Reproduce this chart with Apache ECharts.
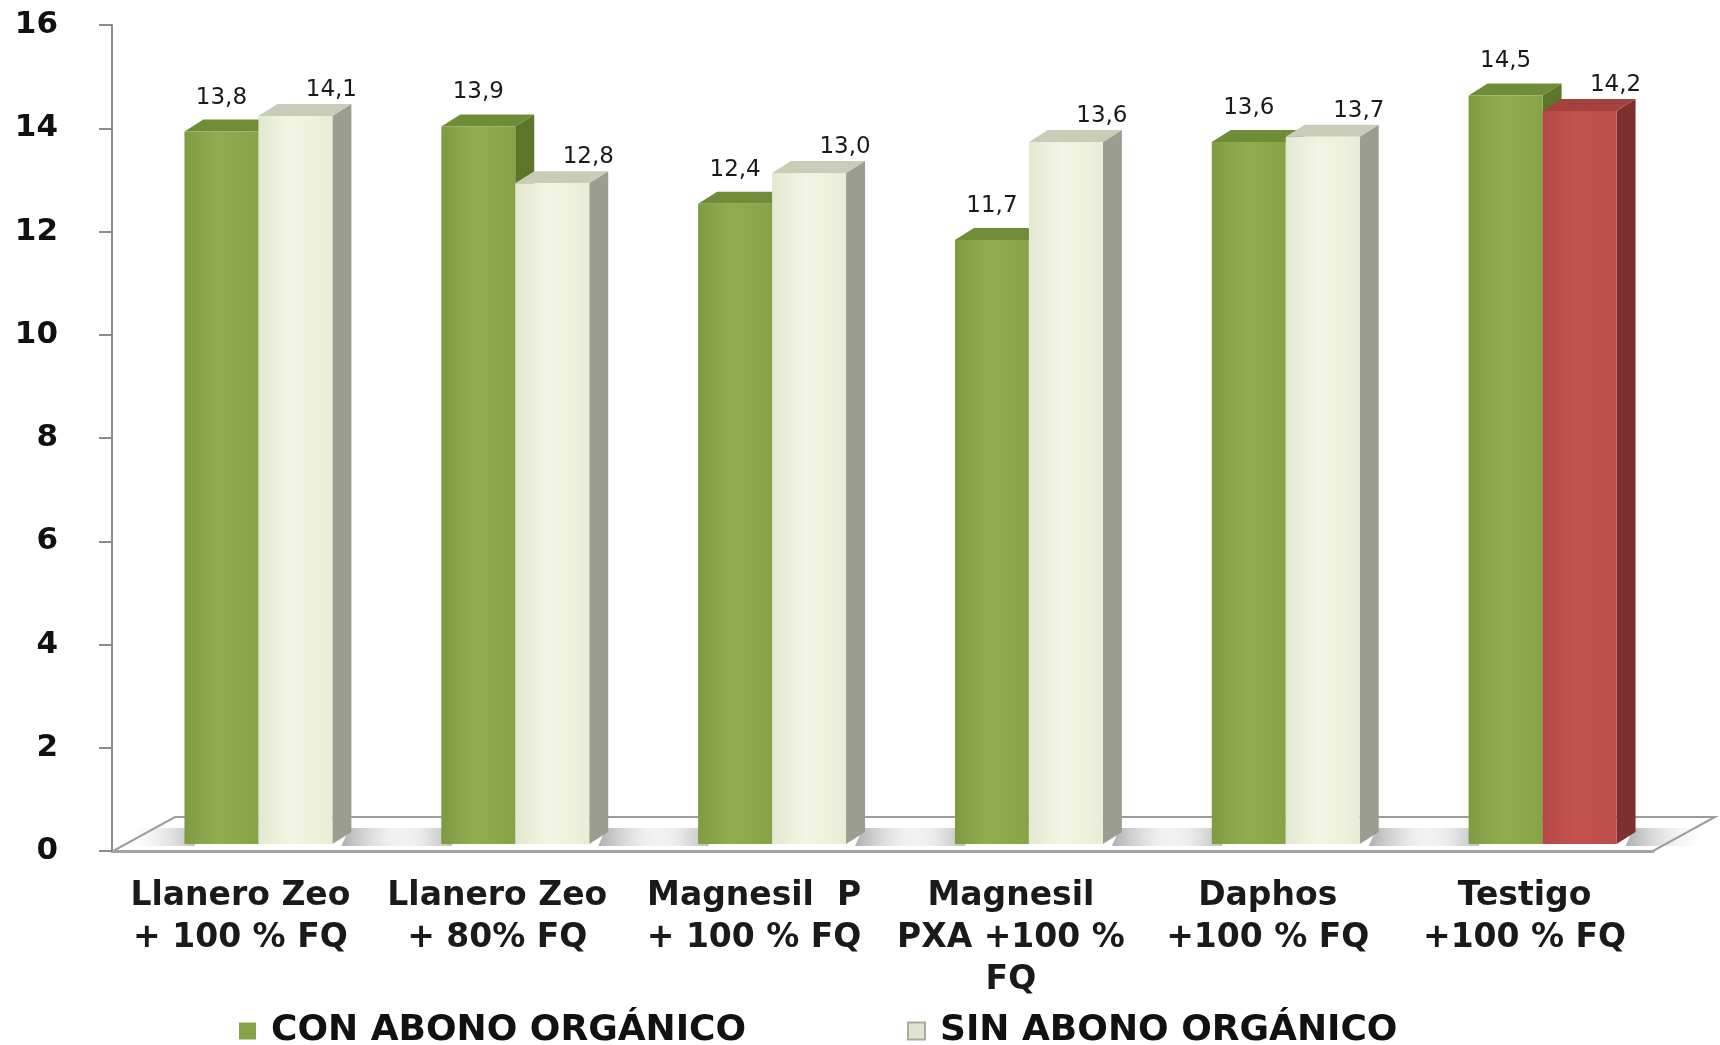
<!DOCTYPE html>
<html>
<head>
<meta charset="utf-8">
<script src="https://cdn.jsdelivr.net/npm/echarts@6/dist/echarts.min.js"></script>
<style>
  html, body { margin: 0; padding: 0; background: #fff; }
  #chart { width: 1720px; height: 1045px; }
</style>
</head>
<body>
<div id="chart"></div>
<script>
// datos
const categories = [
  'Llanero Zeo\n+ 100 % FQ',
  'Llanero Zeo\n+ 80% FQ',
  'Magnesil  P\n+ 100 % FQ',
  'Magnesil\nPXA +100 %\nFQ',
  'Daphos\n+100 % FQ',
  'Testigo\n+100 % FQ'
];
const conAbono = [13.8, 13.9, 12.4, 11.7, 13.6, 14.5];
const sinAbono = [14.1, 12.8, 13.0, 13.6, 13.7, 14.2];
const seriesNames = ['CON ABONO ORGÁNICO', 'SIN ABONO ORGÁNICO'];
const yMin = 0, yMax = 16, yStep = 2;

// layout
const W = 1720, H = 1045;
const GRID = { left: 112, right: 67, top: 25, bottom: 194 };
const FLOOR_DEPTH = [62, -34];
const SHIFT = [18, -7];     // barras metidas hacia atras
const DEPTH = [19, -12];    // profundidad de cada barra
const BAR_FRAC = 0.288;

const GREEN = {
  front: ['#7e9b41', '#90ae50', '#86a447'],
  side: '#5c7629', top: '#6f8c37'
};
const CREAM = {
  front: ['#e3e8d1', '#f2f5e4', '#e8edd7'],
  side: '#9a9d90', top: '#c9cdb8'
};
const RED = {
  front: ['#b54845', '#c3524f', '#bd4d4a'],
  side: '#7f2f2d', top: '#a44240'
};

const fmt = v => v.toFixed(1).replace('.', ',');

function shadow(xa, xb, yb, dy, toLeft) {
  // sombra difusa sobre el piso
  return {
    type: 'polygon',
    shape: { points: [[xa, yb + 2], [xb, yb + 2], [xb + 8, yb + dy - 4], [xa + 8, yb + dy - 4]] },
    style: { fill: new echarts.graphic.LinearGradient(toLeft ? 1 : 0, 0, toLeft ? 0 : 1, 0, [
      { offset: 0, color: 'rgba(110,110,110,0.55)' },
      { offset: 0.5, color: 'rgba(150,150,150,0.22)' },
      { offset: 1, color: 'rgba(200,200,200,0)' }
    ]) }
  };
}

function bar3d(slot, pickPalette, lbl) {
  return function (params, api) {
    const i = api.value(0);
    const v = api.value(1);
    const base = api.coord([i, 0]);
    const top = api.coord([i, v]);
    const band = api.size([1, 0])[0];
    const w = band * BAR_FRAC;
    const x0 = base[0] + SHIFT[0] - w + slot * w;
    const x1 = x0 + w;
    const yb = base[1] + SHIFT[1];
    const yt = top[1] + SHIFT[1];
    const dx = DEPTH[0], dy = DEPTH[1];
    const pal = pickPalette(i);
    const children = [];
    if (slot === 0) {
      children.push(shadow(x0 - 55, x0 + 10, yb, dy, true));
      children.push(shadow(x1 + w + dx - 10, x1 + w + dx + 60, yb, dy, false));
    }
    children.push(
      { type: 'polygon', shape: { points: [[x1, yt], [x1 + dx, yt + dy], [x1 + dx, yb + dy], [x1, yb]] },
        style: { fill: pal.side } },
      { type: 'polygon', shape: { points: [[x0, yt], [x1, yt], [x1 + dx, yt + dy], [x0 + dx, yt + dy]] },
        style: { fill: pal.top } },
      { type: 'rect', shape: { x: x0, y: yt, width: w, height: yb - yt },
        style: { fill: new echarts.graphic.LinearGradient(0, 0, 1, 0, [
          { offset: 0, color: pal.front[0] },
          { offset: 0.45, color: pal.front[1] },
          { offset: 1, color: pal.front[2] }
        ]) } },
      { type: 'text', x: (x0 + x1) / 2 + lbl[0], y: yt - lbl[1],
        style: { text: fmt(v), fontFamily: 'DejaVu Sans', fontSize: 23, fill: '#1a1a1a',
                 align: 'center', verticalAlign: 'middle' } }
    );
    return { type: 'group', children };
  };
}

const floorLeft = GRID.left + 1, floorRight = W - GRID.right, floorY = H - GRID.bottom;

const option = {
  animation: false,
  backgroundColor: '#fff',
  grid: GRID,
  graphic: [{
    type: 'polygon',
    z: -10,
    shape: { points: [
      [floorLeft, floorY],
      [floorRight, floorY],
      [floorRight + FLOOR_DEPTH[0], floorY + FLOOR_DEPTH[1]],
      [floorLeft + FLOOR_DEPTH[0], floorY + FLOOR_DEPTH[1]]
    ] },
    style: { fill: '#fff', stroke: '#9c9c9c', lineWidth: 2 }
  }],
  legend: [
    { data: [seriesNames[0]], left: 234, top: 1008 },
    { data: [seriesNames[1]], left: 902, top: 1008 }
  ].map(l => Object.assign(l, {
    icon: 'rect', itemWidth: 17, itemHeight: 17,
    textStyle: { fontFamily: 'DejaVu Sans', fontWeight: 'bold', fontSize: 36, color: '#111',
                 padding: [0, 0, 0, 10] }
  })),
  xAxis: {
    type: 'category',
    data: categories,
    axisLine: { lineStyle: { color: '#a3a3a3', width: 3 } },
    axisTick: { length: 15, interval: 0, lineStyle: { color: '#a0a0a0', width: 2 } },
    axisLabel: {
      interval: 0, margin: 24, color: '#1a1a1a',
      fontFamily: 'DejaVu Sans', fontWeight: 'bold', fontSize: 33, lineHeight: 42
    }
  },
  yAxis: {
    type: 'value', min: yMin, max: yMax, interval: yStep,
    axisLine: { show: true, lineStyle: { color: '#8c8c8c', width: 2 } },
    axisTick: { show: true, length: 13, lineStyle: { color: '#8c8c8c', width: 2 } },
    splitLine: { show: false },
    axisLabel: { margin: 54, color: '#111', fontFamily: 'DejaVu Sans', fontWeight: 'bold', fontSize: 31 }
  },
  series: [
    {
      name: seriesNames[0], type: 'custom',
      itemStyle: { color: '#86a447' },
      renderItem: bar3d(0, () => GREEN, [0, 34]),
      data: conAbono.map((v, i) => [i, v])
    },
    {
      name: seriesNames[1], type: 'custom',
      itemStyle: { color: '#dfe3d0', borderColor: '#a9ab9f', borderWidth: 1 },
      renderItem: bar3d(1, i => (i === categories.length - 1 ? RED : CREAM), [36, 26]),
      data: sinAbono.map((v, i) => [i, v])
    }
  ]
};

const chart = echarts.init(document.getElementById('chart'));
chart.setOption(option);
</script>
</body>
</html>
